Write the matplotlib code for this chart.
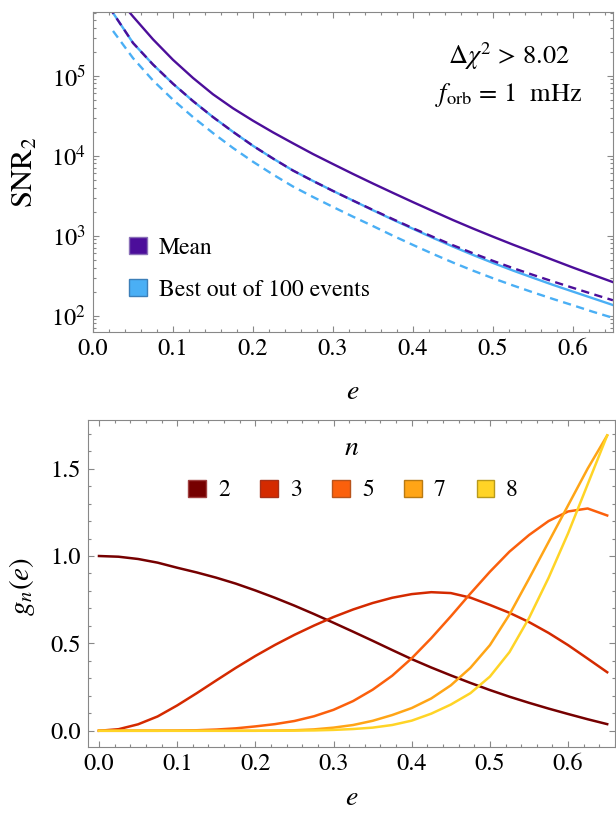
import matplotlib
matplotlib.use("Agg")
import matplotlib.pyplot as plt
from matplotlib.patches import Patch
from matplotlib.ticker import MultipleLocator, FormatStrFormatter

plt.rcParams['font.family'] = ['STIXGeneral', 'DejaVu Serif']
plt.rcParams['mathtext.fontset'] = 'stix'

# top panel: SNR_2 needed to resolve eccentricity
e_mean = [0.04, 0.05, 0.075, 0.1, 0.125, 0.15, 0.175, 0.2, 0.225, 0.25,
          0.275, 0.3, 0.325, 0.35, 0.375, 0.4, 0.425, 0.45, 0.475, 0.5,
          0.525, 0.55, 0.575, 0.6, 0.625, 0.65]
snr_mean = [724000, 550000, 285000, 158000, 93800, 58600, 39200, 27400,
            19600, 14300, 10500, 7870, 5920, 4490, 3430, 2630, 2030, 1570,
            1230, 973, 774, 622, 498, 400, 324, 263]

e_best = [0.02, 0.025, 0.05, 0.075, 0.1, 0.125, 0.15, 0.175, 0.2, 0.225,
          0.25, 0.275, 0.3, 0.325, 0.35, 0.375, 0.4, 0.425, 0.45, 0.475,
          0.5, 0.525, 0.55, 0.575, 0.6, 0.625, 0.65]
snr_mean_dash = [724000, 610000, 257000, 138000, 79400, 48200, 30400, 19900,
                 13300, 9230, 6530, 4840, 3630, 2750, 2100, 1610, 1240, 968,
                 760, 604, 485, 394, 324, 268, 223, 186, 156]
snr_best = [724000, 610000, 257000, 138000, 79400, 48200, 30400, 19900,
            13300, 9230, 6530, 4840, 3630, 2750, 2080, 1585, 1220, 940,
            731, 575, 457, 367, 298, 243, 200, 165, 136]

e_best_dash = [0.025, 0.05, 0.075, 0.1, 0.125, 0.15, 0.175, 0.2, 0.225,
               0.25, 0.275, 0.3, 0.325, 0.35, 0.375, 0.4, 0.425, 0.45, 0.475,
               0.5, 0.525, 0.55, 0.575, 0.6, 0.625, 0.65]
snr_best_dash = [363000, 166000, 87100, 50100, 30400, 19200, 12500, 8410,
                 5820, 4120, 3050, 2290, 1730, 1320, 1000, 767, 592, 462,
                 366, 294, 239, 196, 162, 135, 112, 94]

# bottom panel: g_n(e)
e_g = [0.0, 0.025, 0.05, 0.075, 0.1, 0.125, 0.15, 0.175, 0.2, 0.225, 0.25,
       0.275, 0.3, 0.325, 0.35, 0.375, 0.4, 0.425, 0.45, 0.475, 0.5, 0.525,
       0.55, 0.575, 0.6, 0.625, 0.65]
g2 = [1.0, 0.996, 0.983, 0.962, 0.933, 0.906, 0.876, 0.842, 0.803, 0.761,
      0.716, 0.668, 0.618, 0.567, 0.515, 0.462, 0.41, 0.362, 0.317, 0.274,
      0.233, 0.195, 0.16, 0.127, 0.096, 0.066, 0.038]
g3 = [0.0, 0.009, 0.037, 0.082, 0.145, 0.215, 0.288, 0.36, 0.428, 0.491,
      0.549, 0.602, 0.651, 0.694, 0.731, 0.761, 0.782, 0.793, 0.788, 0.762,
      0.72, 0.675, 0.622, 0.56, 0.49, 0.413, 0.335]
g5 = [0.0, 0.0, 0.0, 0.0, 0.001, 0.003, 0.007, 0.014, 0.025, 0.038, 0.056,
      0.083, 0.12, 0.17, 0.235, 0.315, 0.415, 0.53, 0.655, 0.785, 0.91, 1.025,
      1.12, 1.20, 1.255, 1.272, 1.232]
g7 = [0.0, 0.0, 0.0, 0.0, 0.0, 0.0, 0.0, 0.0, 0.0, 0.001, 0.003,
      0.008, 0.018, 0.033, 0.057, 0.09, 0.13, 0.185, 0.26, 0.36, 0.49, 0.665,
      0.87, 1.08, 1.29, 1.50, 1.69]
g8 = [0.0, 0.0, 0.0, 0.0, 0.0, 0.0, 0.0, 0.0, 0.0, 0.0, 0.001,
      0.002, 0.005, 0.01, 0.018, 0.033, 0.058, 0.098, 0.15, 0.215, 0.31, 0.45,
      0.645, 0.875, 1.13, 1.41, 1.69]
n_labels = ['2', '3', '5', '7', '8']
n_colors = ['#760000', '#d42a00', '#fb600c', '#ffa516', '#ffd426']
n_edges = ['#a04040', '#a83018', '#b8541c', '#b87a14', '#b89a1c']

purple = '#4c0e9a'
blue = '#4aaff5'
frame = '#888888'

fig = plt.figure(figsize=(6.16, 8.15), dpi=100)
ax1 = fig.add_axes([0.151, 0.5926, 0.844, 0.3926])
ax2 = fig.add_axes([0.1429, 0.0834, 0.8555, 0.4012])

dash = (0, (3.5, 2.3))
ax1.plot(e_mean, snr_mean, color=purple, lw=1.7)
ax1.plot(e_best, snr_best, color=blue, lw=1.7)
ax1.plot(e_best, snr_mean_dash, color=purple, lw=1.7, linestyle=dash)
ax1.plot(e_best_dash, snr_best_dash, color=blue, lw=1.7, linestyle=dash)
ax1.set_yscale('log')
ax1.set_xlim(0, 0.65)
ax1.set_ylim(62.5, 6.25e5)
ax1.xaxis.set_major_locator(MultipleLocator(0.1))
ax1.xaxis.set_minor_locator(MultipleLocator(0.02))
ax1.xaxis.set_major_formatter(FormatStrFormatter('%.1f'))
ax1.set_xlabel('$e$', fontsize=20)
ax1.xaxis.set_label_coords(0.5, -0.15)
ax1.set_ylabel(r'$\mathrm{SNR}_2$', fontsize=22)
ax1.yaxis.set_label_coords(-0.102, 0.5)

ax1.text(0.80, 0.862, r'$\Delta\chi^2$ > 8.02', transform=ax1.transAxes,
         ha='center', va='center', fontsize=19)
ax1.text(0.80, 0.742, r'$f_{\rm orb}$ = 1  mHz', transform=ax1.transAxes,
         ha='center', va='center', fontsize=19)

h1 = Patch(facecolor=purple, edgecolor='#8a70b8', linewidth=1.0)
h2 = Patch(facecolor=blue, edgecolor='#3c7fb8', linewidth=1.0)
ax1.legend([h1, h2], ['Mean', 'Best out of 100 events'], loc='upper left',
           bbox_to_anchor=(0.07, 0.297), frameon=False, fontsize=17,
           handlelength=0.75, handleheight=0.75, handletextpad=0.5,
           labelspacing=0.85, borderpad=0, borderaxespad=0)

for g, c in zip([g2, g3, g5, g7, g8], n_colors):
    ax2.plot(e_g, g, color=c, lw=1.8)
ax2.set_xlim(-0.014, 0.66)
ax2.set_ylim(-0.093, 1.778)
ax2.xaxis.set_major_locator(MultipleLocator(0.1))
ax2.xaxis.set_minor_locator(MultipleLocator(0.02))
ax2.xaxis.set_major_formatter(FormatStrFormatter('%.1f'))
ax2.yaxis.set_major_locator(MultipleLocator(0.5))
ax2.yaxis.set_minor_locator(MultipleLocator(0.1))
ax2.yaxis.set_major_formatter(FormatStrFormatter('%.1f'))
ax2.set_xlabel('$e$', fontsize=20)
ax2.xaxis.set_label_coords(0.5, -0.12)
ax2.set_ylabel('$g_n(e)$', fontsize=21)
ax2.yaxis.set_label_coords(-0.096, 0.49)

ax2.text(0.501, 0.914, '$n$', transform=ax2.transAxes, ha='center',
         va='center', fontsize=20)
handles = [Patch(facecolor=c, edgecolor=ec, linewidth=1.0)
           for c, ec in zip(n_colors, n_edges)]
ax2.legend(handles, n_labels, ncol=5, loc='upper center',
           bbox_to_anchor=(0.503, 0.818), frameon=False, fontsize=17,
           handlelength=0.75, handleheight=0.75, handletextpad=0.5,
           columnspacing=1.3, borderpad=0, borderaxespad=0)

for ax in (ax1, ax2):
    for s in ax.spines.values():
        s.set_color(frame)
        s.set_linewidth(0.8)
    ax.tick_params(which='both', direction='in', top=True, right=True,
                   color=frame, width=0.8, labelsize=17.5)
    ax.tick_params(which='major', length=4.5, pad=5)
    ax.tick_params(which='minor', length=2.5)

fig.savefig('out.png', dpi=100)
